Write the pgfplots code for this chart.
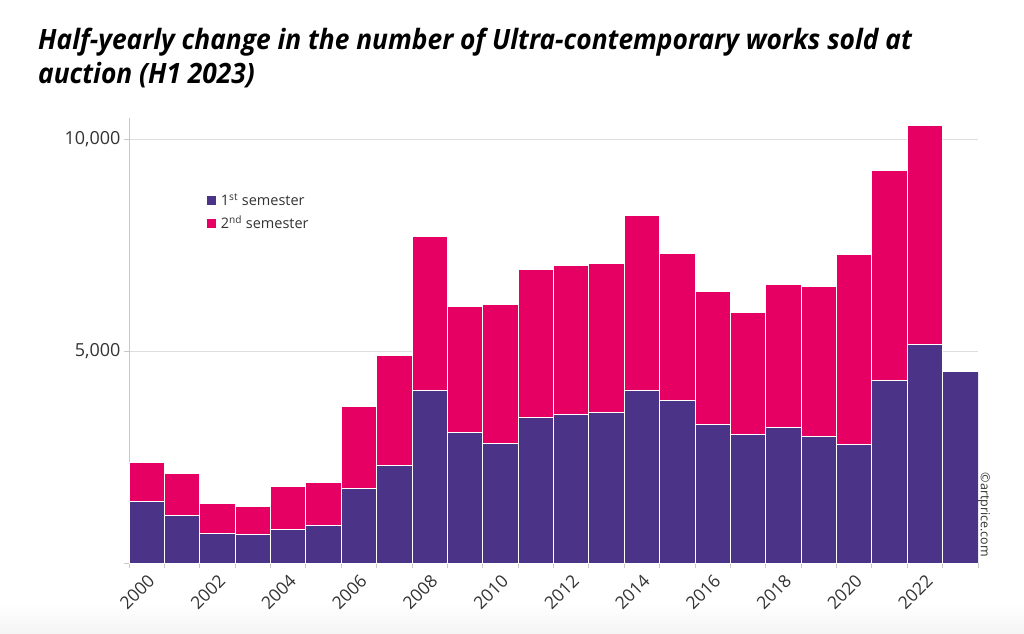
\documentclass[border=0pt]{standalone}
\usepackage{pgfplots}
\usepackage{pgfplotstable}
\pgfplotsset{compat=1.18}
\usepackage{fontspec}
\setmainfont{Open Sans}
\newfontfamily\titlefont[FakeStretch=0.94]{Open Sans}
\definecolor{sem1}{HTML}{4B3387}
\definecolor{sem2}{HTML}{E60064}
\definecolor{txt}{HTML}{333333}
\definecolor{gridc}{HTML}{DDDDDD}
\definecolor{axisc}{HTML}{C8C8C8}

% works sold per half-year
\pgfplotstableread{
x year s1 s2
0 2000 1453 929
1 2001 1132 981
2 2002 698 708
3 2003 667 654
4 2004 785 1022
5 2005 887 1000
6 2006 1759 1934
7 2007 2311 2585
8 2008 4064 3639
9 2009 3080 2981
10 2010 2830 3278
11 2011 3420 3497
12 2012 3491 3528
13 2013 3561 3498
14 2014 4064 4120
15 2015 3835 3467
16 2016 3278 3137
17 2017 3033 2877
18 2018 3198 3373
19 2019 2972 3552
20 2020 2790 4488
21 2021 4300 4952
22 2022 5142 5179
23 2023 4519 0
}\data

\begin{document}
\begin{tikzpicture}[x=1pt,y=1pt]
\useasboundingbox (0pt,0pt) rectangle (1024pt,633pt);
\fill[white] (0pt,0pt) rectangle (1024pt,633pt);
\shade[top color=white, bottom color=black!4] (0pt,0pt) rectangle (1024pt,30pt);
\node[anchor=base west,inner sep=0,font=\titlefont\bfseries\itshape\fontsize{28}{32}\selectfont]
  at (38pt,583pt) {Half-yearly change in the number of Ultra-contemporary works sold at};
\node[anchor=base west,inner sep=0,font=\titlefont\bfseries\itshape\fontsize{28}{32}\selectfont]
  at (38pt,549pt) {auction (H1 2023)};
\begin{axis}[
  at={(129pt,70pt)}, anchor=south west,
  scale only axis, width=849pt, height=445.2pt,
  xmin=-0.5, xmax=23.5, ymin=0, ymax=10500,
  ybar stacked, bar width=35.375pt,
  axis x line*=bottom, axis y line*=left,
  axis line style={axisc, line width=0.8pt},
  scaled y ticks=false,
  ytick={0,5000,10000}, yticklabels={,{5,000},{10,000}},
  ymajorgrids, grid style={gridc, line width=0.8pt},
  tick align=outside, major tick length=5pt,
  tick style={axisc, line width=0.8pt},
  xtick={0,2,...,22},
  xticklabels={2000,2002,2004,2006,2008,2010,2012,2014,2016,2018,2020,2022},
  major x tick style={draw=none},
  minor xtick={-0.5,0.5,...,23.5}, minor tick length=5pt,
  x tick label style={rotate=45, anchor=north east, font=\fontsize{17.5}{17.5}\selectfont, text=txt},
  y tick label style={font=\fontsize{18}{18}\selectfont, text=txt},
  /pgf/number format/assume math mode=true,
  legend style={at={(0.0915,0.835)}, anchor=north west, draw=none, fill=none,
    font=\fontsize{14.5}{14.5}\selectfont, text=txt, row sep=5pt, column sep=3pt, inner sep=0pt},
  legend cell align=left,
  legend image code/.code={\fill[#1,draw=none] (0pt,-4.5pt) rectangle (9pt,4.5pt);},
]
\addplot[fill=sem1, draw=white, line width=1pt] table[x=x,y=s1] {\data};
\addplot[fill=sem2, draw=white, line width=1pt] table[x=x,y=s2] {\data};
\legend{1\textsuperscript{st} semester, 2\textsuperscript{nd} semester}
\end{axis}
\node[rotate=-90, font=\fontsize{12.5}{12.5}\selectfont, text=txt] at (984pt,118pt) {©artprice.com};
\end{tikzpicture}
\end{document}
